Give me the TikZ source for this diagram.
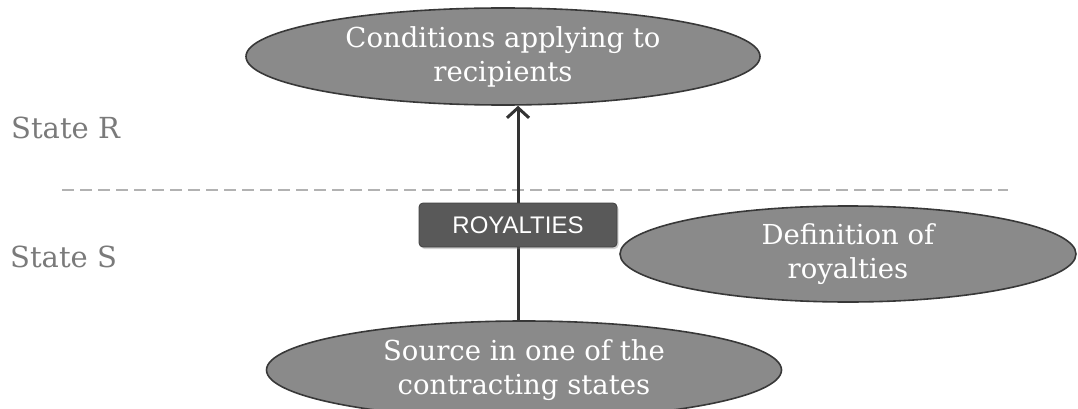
\documentclass[tikz,border=0pt]{standalone}
\usepackage{fontspec}
\setmainfont{DejaVu Serif}
\newfontfamily\labelsans{Liberation Sans}
\usetikzlibrary{shapes.geometric,arrows.meta,shadows}
\definecolor{ovalfill}{HTML}{8A8A8A}
\definecolor{ovaledge}{HTML}{383838}
\definecolor{boxfill}{HTML}{595959}
\definecolor{statetext}{HTML}{7A7A7A}
\tikzset{
  oval/.style={ellipse, fill=ovalfill, draw=ovaledge, line width=1.6pt,
    inner sep=0pt, text=white, align=center,
    font=\fontsize{27.5}{34}\selectfont},
  tagbox/.style={rectangle, rounded corners=4pt, fill=boxfill, draw=black!75,
    line width=0.8pt, text=white, minimum width=198pt, minimum height=44pt,
    font=\labelsans\fontsize{24}{28}\selectfont,
    drop shadow={shadow xshift=1.5pt, shadow yshift=-2pt, opacity=0.35}},
  statelabel/.style={anchor=west, text=statetext, inner sep=0pt,
    font=\fontsize{29}{32}\selectfont},
  divider/.style={draw=black!30, line width=1.4pt, dash pattern=on 12pt off 6pt},
  flow/.style={draw=black!80, line width=3pt,
    -{Straight Barb[length=10pt,width=22pt,line width=3pt]}}
}
\begin{document}
\begin{tikzpicture}[x=1pt,y=-1pt]
  \useasboundingbox (0,0) rectangle (1078,409);

  % side labels for the two states
  \node[statelabel] (stR) at (11,128) {State R};
  \node[statelabel] (stS) at (10,257) {State S};

  % border between the states
  \coordinate (divL) at (62,190);
  \coordinate (divR) at (1008,190);
  \draw[divider] (divL) -- (divR);

  % ovals
  \node[oval, minimum width=514pt, minimum height=97pt] (cond) at (503,56.5)
    {Conditions applying to\\recipients};
  \node[oval, minimum width=515pt, minimum height=98pt] (src) at (524,370)
    {Source in one of the\\contracting states};
  \node[oval, minimum width=456pt, minimum height=96pt] (defn) at (848,254)
    {Definition of\\royalties};

  % flow from the source state to the recipient
  \coordinate (axis) at (518,225);
  \draw[flow] (axis |- src.north) -- (axis |- cond.south);

  % royalties tag on the flow
  \node[tagbox] (roy) at (axis) {ROYALTIES};
\end{tikzpicture}
\end{document}
